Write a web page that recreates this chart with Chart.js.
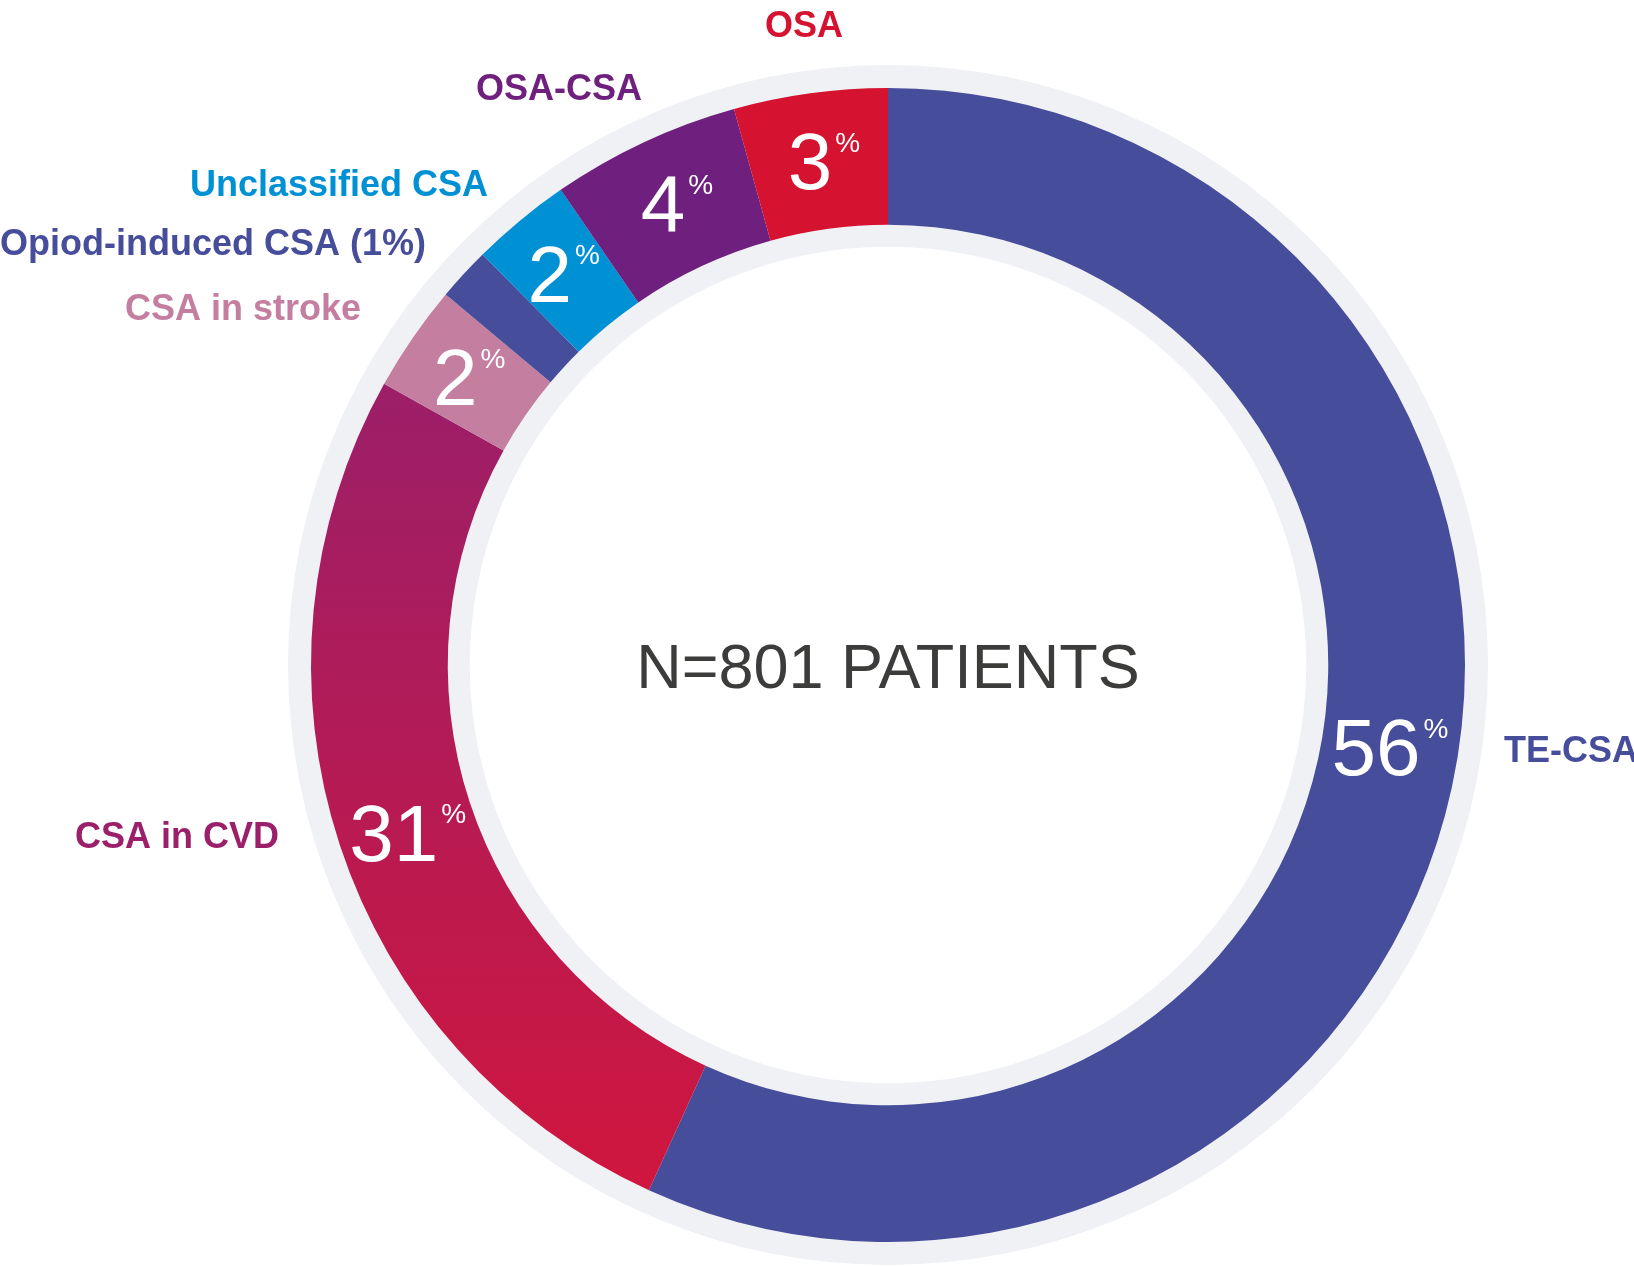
<!DOCTYPE html>
<html>
<head>
<meta charset="utf-8">
<title>CSA patients</title>
<script src="https://cdn.jsdelivr.net/npm/chart.js@4.4.1/dist/chart.umd.min.js"></script>
<style>
  html, body { margin: 0; padding: 0; background: #fff; }
  canvas { display: block; }
</style>
</head>
<body>
<canvas id="graphique" width="1634" height="1266"></canvas>
<script>
/* global Chart */
const categories = ["TE-CSA", "CSA in CVD", "CSA in stroke", "Opiod-induced CSA", "Unclassified CSA", "OSA-CSA", "OSA"];
// share of the ring each slice takes as drawn (percent)
const shares = [56.8, 26.3, 3.0, 1.5, 2.8, 5.3, 4.3];
// value printed inside each slice
const printedValues = ["56", "31", "2", "", "2", "4", "3"];
const outerLabels = ["TE-CSA", "CSA in CVD", "CSA in stroke", "Opiod-induced CSA (1%)", "Unclassified CSA", "OSA-CSA", "OSA"];
const totalLabel = "N=801 PATIENTS";

const sliceColors = ["#464d9b", null, "#c47ea0", "#464d9b", "#0091d5", "#6f1f7d", "#d5122f"];
const labelColors = ["#464d9b", "#9b1f69", "#c47ea0", "#464d9b", "#0091d5", "#6f1f7d", "#d5122f"];
// x, baseline and alignment of the outer labels
const labelPlaces = [
    [1504, 762, "left"],
    [75, 848, "left"],
    [361, 320, "right"],
    [0, 255, "left"],
    [488, 196, "right"],
    [642, 100, "right"],
    [804, 37, "center"],
];
// small turn (degrees) of each inside value away from the slice middle
const valueTurn = [-3, -1, 0, 0, 0, 0.5, 0.5];

const police = "'Liberation Sans', Arial, Helvetica, sans-serif";

// CSA in CVD goes from purple (top) to crimson (bottom)
function couleurPart(context) {
    const i = context.dataIndex;
    if (sliceColors[i]) {
        return sliceColors[i];
    }
    const area = context.chart.chartArea;
    if (!area) {
        return "#b01b56";
    }
    const cy = (area.top + area.bottom) / 2;
    const r = (area.bottom - area.top) / 2;
    const degrade = context.chart.ctx.createLinearGradient(0, cy - 0.5 * r, 0, cy + 0.92 * r);
    degrade.addColorStop(0, "#9b1f69");
    degrade.addColorStop(1, "#d0163e");
    return degrade;
}

// light grey ring behind the coloured one
const anneauFond = {
    id: "anneauFond",
    beforeDatasetsDraw(chart) {
        const arc = chart.getDatasetMeta(0).data[0];
        if (!arc) return;
        const ctx = chart.ctx;
        ctx.save();
        ctx.beginPath();
        ctx.arc(arc.x, arc.y, arc.outerRadius + 23, 0, Math.PI * 2);
        ctx.arc(arc.x, arc.y, arc.innerRadius - 22, 0, Math.PI * 2, true);
        ctx.fillStyle = "#f0f1f5";
        ctx.fill("evenodd");
        ctx.restore();
    },
};

const textes = {
    id: "textes",
    afterDatasetsDraw(chart) {
        const ctx = chart.ctx;
        const arcs = chart.getDatasetMeta(0).data;
        ctx.save();
        ctx.textBaseline = "alphabetic";

        // centre text
        ctx.fillStyle = "#3c3c3b";
        ctx.font = "63px " + police;
        ctx.textAlign = "center";
        ctx.fillText(totalLabel, arcs[0].x, arcs[0].y + 0.716 * 63 / 2);

        // values inside the slices, "value%" centred on the slice middle
        const cap = 0.716 * 80;
        ctx.textAlign = "left";
        ctx.fillStyle = "#ffffff";
        for (let i = 0; i < arcs.length; i++) {
            if (!printedValues[i]) continue;
            const a = arcs[i];
            const angle = (a.startAngle + a.endAngle) / 2 + valueTurn[i] * Math.PI / 180;
            const r = (a.innerRadius + a.outerRadius) / 2;
            const px = a.x + Math.cos(angle) * r;
            const py = a.y + Math.sin(angle) * r;
            ctx.font = "80px " + police;
            const w = ctx.measureText(printedValues[i]).width;
            ctx.font = "28px " + police;
            const wp = ctx.measureText("%").width;
            const left = px - (w + 3 + wp) / 2;
            ctx.font = "80px " + police;
            ctx.fillText(printedValues[i], left, py + cap / 2);
            ctx.font = "28px " + police;
            ctx.fillText("%", left + w + 3, py - cap / 2 + 20);
        }

        // category names around the ring
        ctx.font = "bold 36px " + police;
        for (let i = 0; i < outerLabels.length; i++) {
            const [x, y, align] = labelPlaces[i];
            ctx.fillStyle = labelColors[i];
            ctx.textAlign = align;
            ctx.fillText(outerLabels[i], x, y);
        }
        ctx.restore();
    },
};

const data = {
    labels: categories,
    datasets: [
        {
            data: shares,
            backgroundColor: couleurPart,
            borderWidth: 0,
            hoverOffset: 0,
        },
    ],
};

const config = {
    type: "doughnut",
    data: data,
    options: {
        responsive: false,
        animation: false,
        events: [],
        devicePixelRatio: 1,
        cutout: "76.3%",
        rotation: 0,
        layout: {
            padding: { left: 311, right: 169, top: 88, bottom: 24 },
        },
        plugins: {
            legend: { display: false },
            tooltip: { enabled: false },
        },
    },
    plugins: [anneauFond, textes],
};

new Chart(document.querySelector("#graphique"), config);
</script>
</body>
</html>
